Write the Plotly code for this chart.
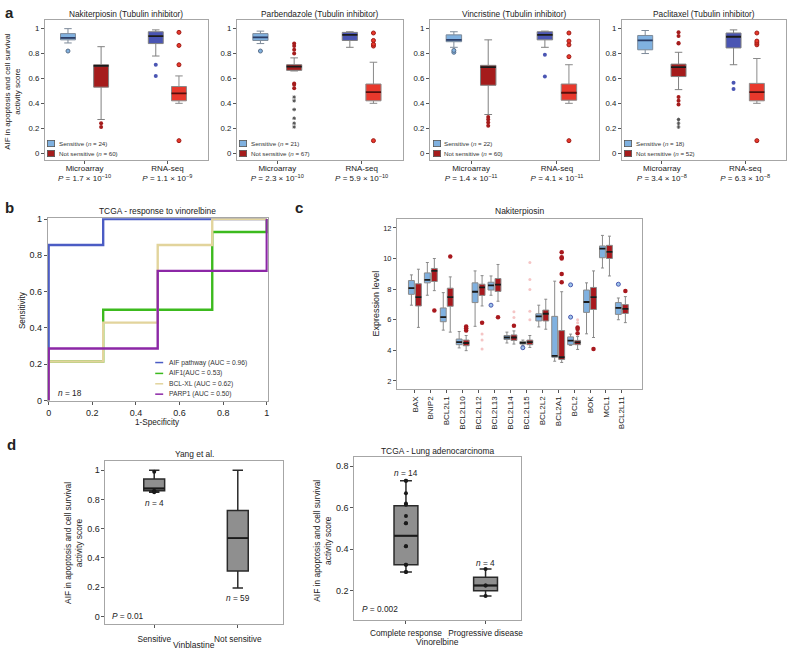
import plotly.graph_objects as go

W, H = 794, 653
FONT = "Liberation Sans, Arial, Helvetica, sans-serif"
FRAME = "#a6a6a6"

# ---------------- panel a ----------------
a_titles = ["Nakiterpiosin (Tubulin inhibitor)", "Parbendazole (Tubulin inhibitor)",
            "Vincristine (Tubulin inhibitor)", "Paclitaxel (Tubulin inhibitor)"]
a_n_sens = [24, 21, 22, 18]
a_n_not = [60, 67, 60, 52]
a_p_micro = ["1.7 × 10<sup>−10</sup>", "2.3 × 10<sup>−10</sup>", "1.4 × 10<sup>−11</sup>", "3.4 × 10<sup>−8</sup>"]
a_p_rna = ["1.1 × 10<sup>−9</sup>", "5.9 × 10<sup>−10</sup>", "4.1 × 10<sup>−11</sup>", "6.3 × 10<sup>−8</sup>"]
a_platforms = ["Microarray", "RNA-seq"]

# [lower whisker, q1, median, q3, upper whisker]
a_micro_sens = [[0.885, 0.91, 0.925, 0.96, 1.0],
                [0.88, 0.905, 0.93, 0.96, 0.98],
                [0.85, 0.895, 0.91, 0.95, 0.975],
                [0.80, 0.83, 0.905, 0.945, 0.985]]
a_micro_not = [[0.27, 0.53, 0.70, 0.71, 0.855],
               [0.66, 0.665, 0.695, 0.71, 0.765],
               [0.31, 0.545, 0.69, 0.705, 0.91],
               [0.51, 0.615, 0.69, 0.715, 0.81]]
a_rna_sens = [[0.78, 0.88, 0.94, 0.975, 0.99],
              [0.85, 0.905, 0.95, 0.97, 0.975],
              [0.85, 0.91, 0.95, 0.975, 0.98],
              [0.71, 0.845, 0.935, 0.965, 0.99]]
a_rna_not = [[0.40, 0.42, 0.48, 0.535, 0.62],
             [0.40, 0.42, 0.49, 0.555, 0.73],
             [0.40, 0.425, 0.485, 0.555, 0.71],
             [0.40, 0.42, 0.49, 0.56, 0.76]]
a_micro_sens_out = [[0.82], [0.82], [0.81, 0.825], []]
a_micro_not_out = [[0.24, 0.21],
                   [0.80, 0.83, 0.86, 0.88, 0.56, 0.55, 0.52],
                   [0.29, 0.27, 0.245, 0.22],
                   [0.88, 0.885, 0.94, 0.97, 0.45, 0.42, 0.39]]
# small star-like outliers
a_micro_not_star = [[], [0.45, 0.42, 0.35, 0.28, 0.24, 0.21], [], [0.27, 0.24, 0.21]]
a_rna_sens_out = [[0.71, 0.62], [], [0.79, 0.615], [0.565, 0.515]]
a_rna_not_out = [[0.10, 0.71, 0.865, 0.97],
                 [0.10, 0.86, 0.875, 0.905, 0.965],
                 [0.10, 0.775, 0.87, 0.90, 0.965],
                 [0.10, 0.87, 0.885, 0.90, 0.965]]

# ---------------- panel b (ROC) ----------------
b_names = ["AIF pathway (AUC = 0.96)", "AIF1(AUC = 0.53)", "BCL-XL (AUC = 0.62)", "PARP1 (AUC = 0.50)"]
b_fpr = [[0, 0, 0.25, 1],
         [0, 0, 0.25, 0.75, 1, 1],
         [0, 0, 0.25, 0.5, 0.75, 1],
         [0, 0, 0.5, 1, 1]]
b_tpr = [[0, 12 / 14, 1, 1],
         [0, 3 / 14, 7 / 14, 13 / 14, 13 / 14, 1],
         [0, 3 / 14, 6 / 14, 12 / 14, 1, 1],
         [0, 4 / 14, 10 / 14, 10 / 14, 1]]
b_colors = ["#4b5cc4", "#3cba1e", "#e2d49c", "#8c27a6"]

# ---------------- panel c ----------------
c_genes = ["BAX", "BNIP2", "BCL2L1", "BCL2L10", "BCL2L12", "BCL2L13", "BCL2L14",
           "BCL2L15", "BCL2L2", "BCL2A1", "BCL2", "BOK", "MCL1", "BCL2L11"]
c_sens = [[6.95, 7.66, 8.07, 8.56, 8.93],
          [7.6, 8.41, 8.6, 9.06, 9.74],
          [5.32, 5.87, 6.17, 6.77, 7.77],
          [4.16, 4.37, 4.54, 4.74, 5.23],
          [5.57, 7.12, 7.83, 8.41, 9.19],
          [7.6, 7.94, 8.24, 8.45, 8.86],
          [4.48, 4.71, 4.84, 4.97, 5.19],
          [4.32, 4.41, 4.49, 4.58, 4.67],
          [5.53, 5.92, 6.22, 6.39, 6.95],
          [3.29, 3.55, 3.64, 6.22, 8.52],
          [4.32, 4.37, 4.63, 4.88, 5.06],
          [5.08, 6.48, 7.16, 7.94, 8.41],
          [9.38, 10.05, 10.65, 10.82, 11.51],
          [6.0, 6.35, 6.77, 7.12, 7.42]]
c_not = [[5.5, 6.9, 7.48, 8.35, 9.3],
         [7.9, 8.5, 9.19, 9.35, 10.0],
         [5.19, 6.88, 7.48, 8.06, 8.8],
         [3.98, 4.3, 4.48, 4.67, 4.97],
         [6.9, 7.59, 8.11, 8.32, 8.88],
         [7.21, 7.85, 8.3, 8.69, 9.61],
         [4.41, 4.65, 4.84, 5.01, 5.27],
         [4.19, 4.37, 4.54, 4.67, 4.97],
         [5.38, 5.92, 6.39, 6.63, 7.34],
         [3.21, 3.4, 3.55, 5.29, 7.83],
         [4.06, 4.37, 4.52, 4.65, 4.9],
         [4.84, 6.67, 7.48, 8.11, 9.19],
         [8.86, 10.0, 10.43, 10.86, 11.46],
         [5.81, 6.41, 6.71, 6.99, 7.51]]
c_sens_out = [[], [], [], [], [], [6.95], [], [4.17], [], [], [6.17, 8.28], [], [], [8.32]]
c_not_out = [[], [6.6], [10.13], [5.29, 5.44, 5.55], [5.81], [6.17], [5.61], [], [],
             [8.45, 8.99, 10.0, 10.09, 10.41], [5.12, 5.4, 5.5], [4.09], [], [7.87]]
c_not_faint = [[], [], [], [], [5.06, 4.67, 4.09], [], [6.15, 6.52],
               [9.74, 8.63, 7.98, 6.56, 6.0], [], [], [5.8, 6.0], [], [], []]

# ---------------- panel d ----------------
dl_groups = ["Sensitive", "Not sensitive"]
dl_stats = [[0.85, 0.86, 0.875, 0.94, 1.0], [0.195, 0.31, 0.535, 0.725, 1.0]]
dl_points = [[0.99, 0.86, 0.855, 0.85], []]
dl_n = [4, 59]
dr_groups = ["Complete response", "Progressive disease"]
dr_stats = [[0.29, 0.325, 0.465, 0.61, 0.73], [0.175, 0.2, 0.225, 0.265, 0.305]]
dr_points = [[0.73, 0.73, 0.67, 0.62, 0.615, 0.56, 0.525, 0.525, 0.415, 0.415, 0.325, 0.325, 0.29, 0.29],
             [0.305, 0.225, 0.225, 0.175]]
dr_n = [14, 4]

LBLUE, DRED, DBLUE, BRED = "#80b1e0", "#a51c1c", "#4a55b3", "#e8382c"
CRED = "#a8181d"

fig = go.Figure()
layout = {}
annotations = []
shapes = []


def names(k):
    s = "" if k == 1 else str(k)
    return "x" + s, "y" + s, "xaxis" + s, "yaxis" + s


def make_axes(k, xpx, ypx, xr, yr, xvals, xtext, yvals, xangle=0, xsize=8, ysize=8,
              xstand=0, ystand=0):
    xa, ya, xk, yk = names(k)
    common = dict(showline=True, mirror=True, linecolor=FRAME, linewidth=1,
                  ticks="outside", ticklen=3, tickwidth=1, tickcolor="#555",
                  showgrid=False, zeroline=False, fixedrange=True)
    layout[xk] = dict(common, domain=[xpx[0] / W, xpx[1] / W], range=xr, anchor=ya,
                      tickvals=xvals, ticktext=xtext, tickangle=xangle, ticklabelstandoff=xstand,
                      tickfont=dict(size=xsize, color="#222"))
    layout[yk] = dict(common, domain=[1 - ypx[1] / H, 1 - ypx[0] / H], range=yr, anchor=xa,
                      tickvals=yvals, ticktext=[f"{v:g}" for v in yvals], ticklabelstandoff=ystand,
                      tickfont=dict(size=ysize, color="#222"))
    return xa, ya


def box(xa, ya, pos, stats, fill, edge, width, med_color="#1a1a1a", lw=1):
    fig.add_trace(go.Box(x=pos, lowerfence=[s[0] for s in stats], q1=[s[1] for s in stats],
                         median=[s[2] for s in stats], q3=[s[3] for s in stats],
                         upperfence=[s[4] for s in stats], width=width, whiskerwidth=0.5,
                         fillcolor=fill, line=dict(color=edge, width=lw), boxpoints=False,
                         xaxis=xa, yaxis=ya, showlegend=False, hoverinfo="skip"))
    meds = [[s[2]] * 5 for s in stats]
    fig.add_trace(go.Box(x=pos, lowerfence=[m[0] for m in meds], q1=[m[1] for m in meds],
                         median=[m[2] for m in meds], q3=[m[3] for m in meds],
                         upperfence=[m[4] for m in meds], width=width, whiskerwidth=0,
                         fillcolor="rgba(0,0,0,0)", line=dict(color=med_color, width=1.8),
                         boxpoints=False, xaxis=xa, yaxis=ya, showlegend=False, hoverinfo="skip"))


def points(xa, ya, pos, vals, color, size=4, line="rgba(0,0,0,0)", opacity=1, symbol="circle"):
    xs, ys = [], []
    for p, v in zip(pos, vals):
        xs += [p] * len(v)
        ys += v
    if ys:
        fig.add_trace(go.Scatter(x=xs, y=ys, mode="markers", xaxis=xa, yaxis=ya,
                                 marker=dict(size=size, color=color, opacity=opacity, symbol=symbol,
                                             line=dict(color=line, width=1)),
                                 showlegend=False, hoverinfo="skip", cliponaxis=False))


def note(text, px, py, size=8.3, xanchor="center", yanchor="middle", angle=0, **kw):
    annotations.append(dict(text=text, x=px / W, y=1 - py / H, xref="paper", yref="paper",
                            xanchor=xanchor, yanchor=yanchor, showarrow=False, textangle=angle,
                            font=dict(size=size, color="#222"), **kw))


# ---- panel a ----
a_frames = [(43, 207), (236, 403), (430, 600), (623, 788)]
for i in range(4):
    k = i + 1
    ticks = [f"{a_platforms[0]}<br><i>P</i> = {a_p_micro[i]}",
             f"{a_platforms[1]}<br><i>P</i> = {a_p_rna[i]}"]
    xa, ya = make_axes(k, a_frames[i], (16, 158), [0.52, 2.49], [-0.056, 1.071],
                       [1, 2], ticks, [0, 0.2, 0.4, 0.6, 0.8, 1], xsize=8, ysize=7.8,
                       xstand=-3)
    box(xa, ya, [0.8], [a_micro_sens[i]], LBLUE, "#7d8a99", 0.18, med_color="#2b3d66")
    box(xa, ya, [1.2], [a_micro_not[i]], DRED, "#808080", 0.18)
    box(xa, ya, [1.86], [a_rna_sens[i]], DBLUE, "#808080", 0.18)
    box(xa, ya, [2.14], [a_rna_not[i]], BRED, "#8a8a8a", 0.18, med_color="#5a0d0a")
    points(xa, ya, [0.8], [a_micro_sens_out[i]], LBLUE, line="#5a6f8a")
    points(xa, ya, [1.2], [a_micro_not_out[i]], DRED)
    points(xa, ya, [1.2], [a_micro_not_star[i]], "#555", size=3, symbol="asterisk",
           line="#555")
    points(xa, ya, [1.86], [a_rna_sens_out[i]], DBLUE)
    points(xa, ya, [2.14], [a_rna_not_out[i]], BRED, line="#a01a14")
    cx = (a_frames[i][0] + a_frames[i][1]) / 2
    note(a_titles[i], cx, 10, size=8.3)
    for row, (col, lab) in enumerate([(LBLUE, f"Sensitive (<i>n</i> = {a_n_sens[i]})"),
                                      (DRED, f"Not sensitive (<i>n</i> = {a_n_not[i]})")]):
        yd = [0.12, 0.05][row]
        annotations.append(dict(text=" ", xref=f"{xa} domain", yref=f"{ya} domain", x=0.04, y=yd,
                                xanchor="center", yanchor="middle",
                                width=6, height=5, bgcolor=col, bordercolor="#555", borderwidth=0.8,
                                borderpad=0, showarrow=False, font=dict(size=4)))
        annotations.append(dict(text=lab, xref=f"{xa} domain", yref=f"{ya} domain", x=0.073, y=yd,
                                xanchor="left", yanchor="middle", showarrow=False,
                                font=dict(size=6.2, color="#333")))
note("AIF in apoptosis and cell survival<br>activity score", 11, 88, size=8, angle=-90)
note("<b>a</b>", 1, 9, size=15, xanchor="left")

# ---- panel b ----
xa, ya = make_axes(5, (46, 267), (217, 402), [-0.004, 1.004], [-0.004, 1.004],
                   [0, 0.2, 0.4, 0.6, 0.8, 1], ["0", "0.2", "0.4", "0.6", "0.8", "1"],
                   [0, 0.2, 0.4, 0.6, 0.8, 1], xsize=9, ysize=9)
for fx, ty, col in zip(b_fpr, b_tpr, b_colors):
    fig.add_trace(go.Scatter(x=fx, y=ty, mode="lines", line=dict(color=col, width=2.4, shape="hv"),
                             xaxis=xa, yaxis=ya, showlegend=False, hoverinfo="skip"))
for row, (lab, col) in enumerate(zip(b_names, b_colors)):
    yd = (402 - [363, 374, 384.5, 395][row]) / 185
    shapes.append(dict(type="line", xref=f"{xa} domain", yref=f"{ya} domain",
                       x0=(154 - 46) / 221, x1=(162 - 46) / 221, y0=yd, y1=yd,
                       line=dict(color=col, width=1.5)))
    annotations.append(dict(text=lab, xref=f"{xa} domain", yref=f"{ya} domain",
                            x=(166 - 46) / 221, y=yd, xanchor="left", yanchor="middle",
                            showarrow=False, font=dict(size=6.7, color="#333")))
note("TCGA - response to vinorelbine", 156, 210, size=8.4)
note("Sensitivity", 20, 310, size=8.2, angle=-90)
note("1-Specificity", 156, 424, size=8.2)
note("<i>n</i> = 18", 54, 394, size=8.3, xanchor="left")
note("<b>b</b>", 1, 206, size=15, xanchor="left")

# ---- panel c ----
xa, ya = make_axes(6, (397, 643), (218, 390), [-1.125, 14.25], [1.46, 12.56],
                   list(range(len(c_genes))), c_genes, [2, 4, 6, 8, 10, 12],
                   xangle=-90, xsize=8, ysize=7.5)
pos_s = [i - 0.22 for i in range(len(c_genes))]
pos_n = [i + 0.22 for i in range(len(c_genes))]
box(xa, ya, pos_s, c_sens, LBLUE, "#8a8a8a", 0.37)
box(xa, ya, pos_n, c_not, CRED, "#8a8a8a", 0.37)
points(xa, ya, pos_n, c_not_faint, "#f0a0a0", size=3, opacity=0.6)
points(xa, ya, pos_s, c_sens_out, "#9ec4ea", size=4, line="#4a58b0")
points(xa, ya, pos_n, c_not_out, CRED, size=4.5)
note("Nakiterpiosin", 520, 210, size=8.5)
note("Expression level", 376, 303, size=9, angle=-90)
note("<b>c</b>", 292, 206, size=15, xanchor="left")

# ---- panel d, left ----
xa, ya = make_axes(7, (104, 282), (463, 628), [0.417, 2.536], [-0.054, 1.061],
                   [1, 2], dl_groups, [0, 0.2, 0.4, 0.6, 0.8, 1], xsize=8.3, ysize=9,
                   xstand=4)
box(xa, ya, [1, 2], dl_stats, "#8f8f8f", "#2a2a2a", 0.25, lw=1.5)
points(xa, ya, [1, 2], dl_points, "#1a1a1a", size=4)
note("Yang et al.", 193, 456, size=8.4)
note("AIF in apoptosis and cell survival<br>activity score", 72, 546, size=8.4, angle=-90)
note("Vinblastine", 193, 649, size=8.5)
note(f"<i>n</i> = {dl_n[0]}", 153, 505)
note(f"<i>n</i> = {dl_n[1]}", 237, 601)
note("<i>P</i> = 0.01", 109, 620, xanchor="left")
note("<b>d</b>", 3, 446, size=15, xanchor="left")

# ---- panel d, right ----
xa, ya = make_axes(8, (354, 522), (459, 624), [0.35, 2.45], [0.057, 0.843],
                   [1, 2], dr_groups, [0.2, 0.4, 0.6, 0.8], xsize=8.3, ysize=9,
                   xstand=2)
box(xa, ya, [1, 2], dr_stats, "#8f8f8f", "#2a2a2a", 0.3, lw=1.5)
points(xa, ya, [1, 2], dr_points, "#1a1a1a", size=4)
note("TCGA - Lung adenocarcinoma", 438, 453, size=8.4)
note("AIF in apoptosis and cell survival<br>activity score", 322, 543, size=8.4, angle=-90)
note("Vinorelbine", 438, 646, size=8.5)
note(f"<i>n</i> = {dr_n[0]}", 406, 475)
note(f"<i>n</i> = {dr_n[1]}", 486, 566)
note("<i>P</i> = 0.002", 360, 613, xanchor="left")

fig.update_layout(**layout)
fig.update_layout(width=W, height=H, margin=dict(l=0, r=0, t=0, b=0),
                  paper_bgcolor="white", plot_bgcolor="white", showlegend=False,
                  boxmode="overlay", font=dict(family=FONT, color="#222"),
                  annotations=annotations, shapes=shapes)
fig.write_html("out.html", config={"displayModeBar": False},
               post_script="document.body.style.margin='0';")
